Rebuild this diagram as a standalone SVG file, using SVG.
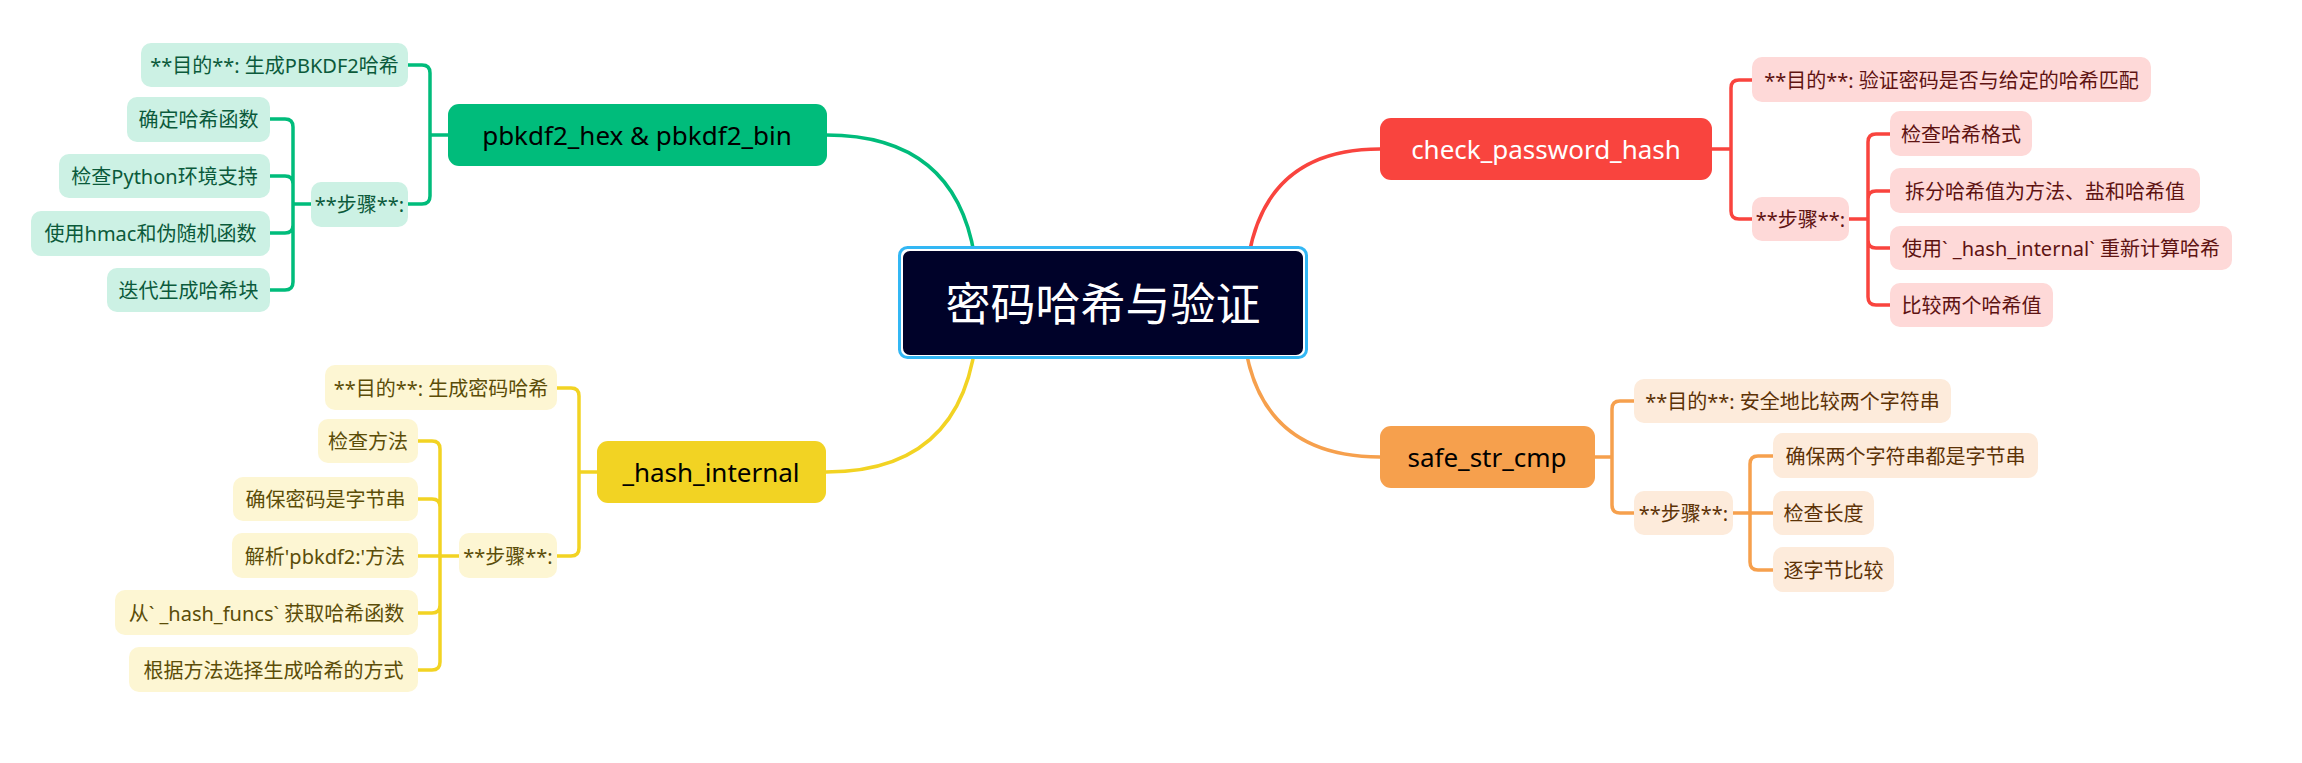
<svg xmlns="http://www.w3.org/2000/svg" width="2302" height="763" viewBox="0 0 2302 763">
<style>
text{font-family:"Noto Sans","Noto Sans CJK SC",sans-serif;text-anchor:middle;dominant-baseline:central}
.c{fill:none;stroke-width:3.5;stroke-linecap:round}
.g{stroke:#00BC7B}.r{stroke:#F9443E}.y{stroke:#F2D323}.o{stroke:#F6A04D}
.leaf{font-size:20px}
.gl rect{fill:#CCF1E4}.gl text{fill:#0B5A3B}
.rl rect{fill:#FED9D8}.rl text{fill:#5E1312}
.yl rect{fill:#FDF6D3}.yl text{fill:#5B4D08}
.ol rect{fill:#FDEBDB}.ol text{fill:#5C3206}
.main text{font-size:26px}
</style>
<rect width="2302" height="763" fill="#fff"/>
<g id="connectors">
<path class="c g" d="M978 303 Q978 135 826 135"/>
<path class="c y" d="M978 303 Q978 472 826 472"/>
<path class="c r" d="M1245 303 Q1245 149 1380 149"/>
<path class="c o" d="M1242 303 Q1242 457 1380 457"/>
<!-- green -->
<path class="c g" d="M448 135 H430 M430 135 V73 Q430 65 422 65 H408 M430 135 V196 Q430 204 422 204 H408"/>
<path class="c g" d="M311 204 H293 M293 204 V127 Q293 119 285 119 H270 M293 204 V184 Q293 176 285 176 H270 M293 204 V225 Q293 233 285 233 H270 M293 204 V282 Q293 290 285 290 H270"/>
<!-- red -->
<path class="c r" d="M1712 149 H1731 M1731 149 V88 Q1731 80 1739 80 H1752 M1731 149 V211 Q1731 219 1739 219 H1752"/>
<path class="c r" d="M1849 219 H1868 M1868 219 V142 Q1868 134 1876 134 H1890 M1868 219 V199 Q1868 191 1876 191 H1890 M1868 219 V240 Q1868 248 1876 248 H1890 M1868 219 V297 Q1868 305 1876 305 H1890"/>
<!-- yellow -->
<path class="c y" d="M597 472 H579 M579 472 V396 Q579 388 571 388 H557 M579 472 V548 Q579 556 571 556 H557"/>
<path class="c y" d="M459 556 H440 M440 556 V449 Q440 441 432 441 H418 M440 556 V507 Q440 499 432 499 H418 M440 556 H418 M440 556 V605 Q440 613 432 613 H418 M440 556 V662 Q440 670 432 670 H418"/>
<!-- orange -->
<path class="c o" d="M1595 457 H1612 M1612 457 V409 Q1612 401 1620 401 H1634 M1612 457 V505 Q1612 513 1620 513 H1634"/>
<path class="c o" d="M1733 513 H1750 M1750 513 V464 Q1750 456 1758 456 H1773 M1750 513 H1773 M1750 513 V562 Q1750 570 1758 570 H1773"/>
</g>
<g id="root">
<rect x="899.5" y="247.5" width="407" height="110" rx="8" fill="#fff" stroke="#33B7F4" stroke-width="3"/>
<rect x="903" y="251" width="400" height="104" rx="7" fill="#000229"/>
<text x="1103" y="303" font-size="45" fill="#fff">密码哈希与验证</text>
</g>
<g id="pbkdf2" class="main">
<rect x="448" y="104" width="379" height="62" rx="11" fill="#00BC7B"/>
<text x="637" y="135" fill="#000">pbkdf2_hex &amp; pbkdf2_bin</text>
</g>
<g id="check" class="main">
<rect x="1380" y="118" width="332" height="62" rx="11" fill="#F9443E"/>
<text x="1546" y="149" fill="#fff">check_password_hash</text>
</g>
<g id="hashint" class="main">
<rect x="597" y="441" width="229" height="62" rx="11" fill="#F2D323"/>
<text x="711" y="472" fill="#000">_hash_internal</text>
</g>
<g id="safe" class="main">
<rect x="1380" y="426" width="215" height="62" rx="11" fill="#F6A04D"/>
<text x="1487" y="457" fill="#000">safe_str_cmp</text>
</g>
<g id="g-purpose" class="gl leaf"><rect x="141" y="43" width="267" height="44" rx="10"/><text x="274.5" y="65">**目的**: 生成PBKDF2哈希</text></g>
<g id="g-steps" class="gl leaf"><rect x="311" y="182" width="97" height="45" rx="10"/><text x="359.5" y="204">**步骤**:</text></g>
<g id="g-s1" class="gl leaf"><rect x="127" y="97" width="143" height="45" rx="10"/><text x="198.5" y="119">确定哈希函数</text></g>
<g id="g-s2" class="gl leaf"><rect x="59" y="154" width="211" height="44" rx="10"/><text x="164.5" y="176">检查Python环境支持</text></g>
<g id="g-s3" class="gl leaf"><rect x="31" y="211" width="239" height="45" rx="10"/><text x="150.5" y="233">使用hmac和伪随机函数</text></g>
<g id="g-s4" class="gl leaf"><rect x="107" y="268" width="163" height="44" rx="10"/><text x="188.5" y="290">迭代生成哈希块</text></g>
<g id="r-purpose" class="rl leaf"><rect x="1752" y="57" width="399" height="45" rx="10"/><text x="1951.5" y="80">**目的**: 验证密码是否与给定的哈希匹配</text></g>
<g id="r-steps" class="rl leaf"><rect x="1752" y="197" width="97" height="44" rx="10"/><text x="1800.5" y="219">**步骤**:</text></g>
<g id="r-s1" class="rl leaf"><rect x="1890" y="111" width="142" height="45" rx="10"/><text x="1961" y="134">检查哈希格式</text></g>
<g id="r-s2" class="rl leaf"><rect x="1890" y="168" width="310" height="45" rx="10"/><text x="2045" y="191">拆分哈希值为方法、盐和哈希值</text></g>
<g id="r-s3" class="rl leaf"><rect x="1890" y="226" width="342" height="44" rx="10"/><text x="2061" y="248">使用` _hash_internal` 重新计算哈希</text></g>
<g id="r-s4" class="rl leaf"><rect x="1890" y="283" width="163" height="44" rx="10"/><text x="1971.5" y="305">比较两个哈希值</text></g>
<g id="y-purpose" class="yl leaf"><rect x="325" y="365" width="232" height="45" rx="10"/><text x="441" y="388">**目的**: 生成密码哈希</text></g>
<g id="y-steps" class="yl leaf"><rect x="459" y="533" width="98" height="45" rx="10"/><text x="508" y="556">**步骤**:</text></g>
<g id="y-s1" class="yl leaf"><rect x="318" y="419" width="100" height="44" rx="10"/><text x="368" y="441">检查方法</text></g>
<g id="y-s2" class="yl leaf"><rect x="233" y="477" width="185" height="44" rx="10"/><text x="325.5" y="499">确保密码是字节串</text></g>
<g id="y-s3" class="yl leaf"><rect x="232" y="533" width="186" height="45" rx="10"/><text x="325" y="556">解析'pbkdf2:'方法</text></g>
<g id="y-s4" class="yl leaf"><rect x="115" y="590" width="303" height="45" rx="10"/><text x="266.5" y="613">从` _hash_funcs` 获取哈希函数</text></g>
<g id="y-s5" class="yl leaf"><rect x="129" y="647" width="289" height="45" rx="10"/><text x="273.5" y="670">根据方法选择生成哈希的方式</text></g>
<g id="o-purpose" class="ol leaf"><rect x="1634" y="379" width="317" height="44" rx="10"/><text x="1792.5" y="401">**目的**: 安全地比较两个字符串</text></g>
<g id="o-steps" class="ol leaf"><rect x="1634" y="491" width="99" height="44" rx="10"/><text x="1683.5" y="513">**步骤**:</text></g>
<g id="o-s1" class="ol leaf"><rect x="1773" y="433" width="265" height="45" rx="10"/><text x="1905.5" y="456">确保两个字符串都是字节串</text></g>
<g id="o-s2" class="ol leaf"><rect x="1773" y="491" width="101" height="44" rx="10"/><text x="1823.5" y="513">检查长度</text></g>
<g id="o-s3" class="ol leaf"><rect x="1773" y="547" width="121" height="45" rx="10"/><text x="1833.5" y="570">逐字节比较</text></g>
</svg>
